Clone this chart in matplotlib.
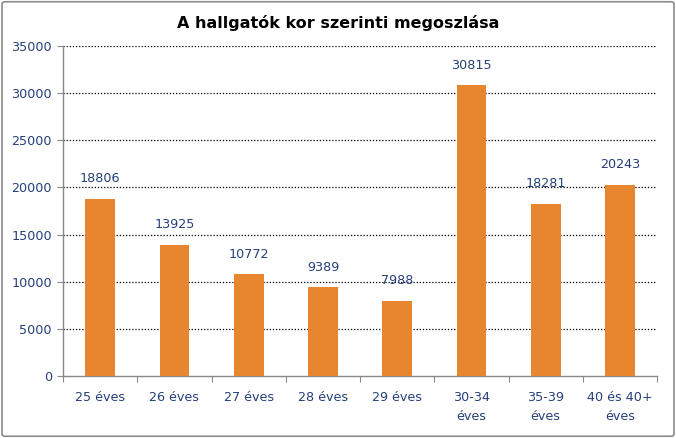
import matplotlib
matplotlib.use("Agg")
import matplotlib.pyplot as plt
from matplotlib.patches import FancyBboxPatch

categories = ["25 éves", "26 éves", "27 éves", "28 éves", "29 éves",
              "30-34\néves", "35-39\néves", "40 és 40+\néves"]
values = [18806, 13925, 10772, 9389, 7988, 30815, 18281, 20243]
yticks = [0, 5000, 10000, 15000, 20000, 25000, 30000, 35000]
title = "A hallgatók kor szerinti megoszlása"

bar_color = "#E8862F"
text_color = "#243F7A"
axis_color = "#888888"

plt.rcParams['font.family'] = ['DejaVu Sans']

fig = plt.figure(figsize=(6.76, 4.38), dpi=100)
ax = fig.add_axes([0.0932, 0.1416, 0.972 - 0.0932, 0.895 - 0.1416])

x = list(range(len(categories)))
ax.bar(x, values, width=0.40, color=bar_color, zorder=3)

for xi, v in zip(x, values):
    ax.annotate(str(v), (xi, v), xytext=(0, 10), textcoords="offset points",
                ha="center", va="bottom", fontsize=9.2, color=text_color)

ax.set_xlim(-0.5, len(categories) - 0.5)
ax.set_ylim(0, 35000)
ax.set_yticks(yticks)
ax.set_yticklabels([str(t) for t in yticks])
ax.tick_params(axis="y", colors=axis_color, labelcolor=text_color, labelsize=9.2,
               length=4, direction="out", pad=4)

ax.set_xticks([i + 0.5 for i in range(-1, len(categories))])
ax.set_xticklabels([])
ax.set_xticks(x, minor=True)
ax.set_xticklabels(categories, minor=True, linespacing=1.55)
ax.tick_params(axis="x", which="major", colors=axis_color, length=4, direction="out")
ax.tick_params(axis="x", which="minor", length=0, labelcolor=text_color,
               labelsize=9.2, pad=11)

for t in yticks[1:]:
    ax.axhline(t, color="black", linestyle=(0, (1, 1.5)), linewidth=0.9, zorder=2)

for s in ["top", "right"]:
    ax.spines[s].set_visible(False)
for s in ["left", "bottom"]:
    ax.spines[s].set_color(axis_color)
    ax.spines[s].set_linewidth(1.0)

fig.text(0.5, 0.948, title, ha="center", va="center", fontsize=11.5,
         fontweight="bold", color="black")

border = FancyBboxPatch((0.003, 0.004), 0.994, 0.992, boxstyle="round,pad=0,rounding_size=0.005",
                        transform=fig.transFigure, fill=False, edgecolor="#8c8c8c", linewidth=1.2)
fig.patches.append(border)

fig.savefig("out.png", dpi=100)
